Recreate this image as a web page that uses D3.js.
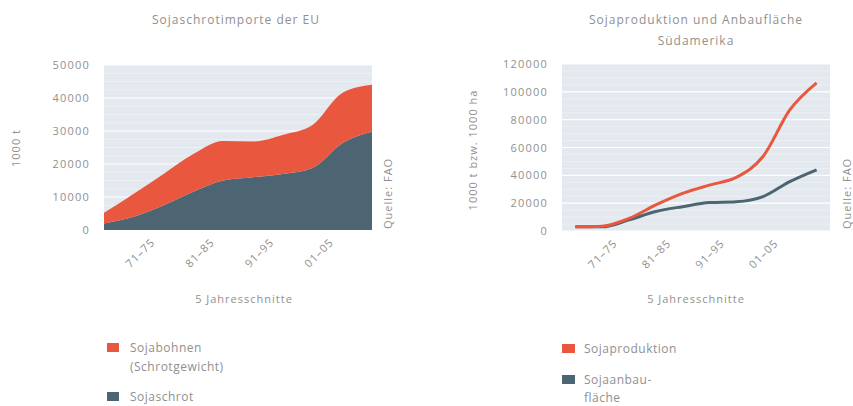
<!DOCTYPE html>
<html><head><meta charset="utf-8">
<script src="https://cdn.jsdelivr.net/npm/d3@7/dist/d3.min.js"></script>
<style>
body{margin:0;background:#fff;}
svg text{font-family:"Open Sans",sans-serif;fill:#909090;}
</style></head>
<body><svg id="c" width="853" height="406"></svg>
<script>
// ---- data ----
const periods = ["61–65","66–70","71–75","76–80","81–85","86–90","91–95","96–00","01–05","06–10"];
const shownTicks = ["71–75","81–85","91–95","01–05"];
// EU imports (1000 t)
const sojaschrot = [2000, 4000, 7500, 11600, 15000, 16000, 17000, 18800, 26300, 29800];
const sojabohnen = [3200, 7000, 9500, 11400, 12000, 10800, 11800, 13000, 15200, 14200];
const leftYTicks = [0, 10000, 20000, 30000, 40000, 50000];
// South America
const sojaproduktion = [3000, 3500, 9000, 18700, 27000, 33000, 38500, 53500, 87000, 106500];
const sojaanbauflaeche = [3000, 3000, 8000, 14000, 17500, 20400, 21000, 24700, 35500, 44000];
const rightYTicks = [0, 20000, 40000, 60000, 80000, 100000, 120000];

const RED = "#e9573f", DARK = "#4d6472", BG = "#e3e9ee";
const svg = d3.select("#c");

function frame(x0, x1, y, ticks) {
  const g = svg.append("g");
  g.append("rect").attr("x", x0).attr("y", y.range()[1]).attr("width", x1 - x0)
    .attr("height", y.range()[0] - y.range()[1]).attr("fill", BG);
  const step = ticks[1] - ticks[0];
  for (let v = 0; v < ticks[ticks.length - 1]; v += step / 4) {
    g.append("line").attr("x1", x0).attr("x2", x1).attr("y1", y(v)).attr("y2", y(v))
      .attr("stroke", "#fff").attr("stroke-opacity", 0.35);
  }
  ticks.forEach(t => {
    g.append("line").attr("x1", x0).attr("x2", x1).attr("y1", y(t)).attr("y2", y(t))
      .attr("stroke", "#fff").attr("stroke-width", 1.2).attr("stroke-opacity", 0.9);
    g.append("text").attr("x", x0 - 14).attr("y", y(t) + 4).attr("text-anchor", "end")
      .attr("font-size", 11).attr("letter-spacing", 1.2).text(t);
  });
  return g;
}

function xLabels(g, xs, yb, dx) {
  shownTicks.forEach(p => {
    const x = xs(p);
    g.append("text").attr("transform", `translate(${x + dx},${yb + 13}) rotate(-45)`)
      .attr("text-anchor", "end").attr("font-size", 11).attr("letter-spacing", 1).text(p);
  });
}

// ---- Left chart ----
{
  const x0 = 104, x1 = 372;
  const xs = d3.scalePoint().domain(periods).range([x0, x1]);
  const y = d3.scaleLinear().domain([0, 50000]).range([230, 65]);
  const g = frame(x0, x1, y, leftYTicks);
  const stackData = periods.map((p, i) => ({p, schrot: sojaschrot[i], bohnen: sojabohnen[i]}));
  const series = d3.stack().keys(["schrot", "bohnen"])(stackData);
  const area = d3.area().x(d => xs(d.data.p)).y0(d => y(d[0])).y1(d => y(d[1])).curve(d3.curveMonotoneX);
  g.selectAll("path.a").data(series).join("path").attr("d", area)
    .attr("fill", (d, i) => i === 0 ? DARK : RED);
  xLabels(g, xs, 230, -8);
  g.append("text").attr("x", 236).attr("y", 24).attr("text-anchor", "middle")
    .attr("font-size", 12).attr("letter-spacing", 1).text("Sojaschrotimporte der EU");
  g.append("text").attr("transform", "translate(20,148) rotate(-90)").attr("text-anchor", "middle")
    .attr("font-size", 11).attr("letter-spacing", 1).text("1000 t");
  g.append("text").attr("transform", "translate(392,229) rotate(-90)").attr("text-anchor", "start")
    .attr("font-size", 11).attr("letter-spacing", 1).text("Quelle: FAO");
  g.append("text").attr("x", 244).attr("y", 303).attr("text-anchor", "middle")
    .attr("font-size", 11).attr("letter-spacing", 1).text("5 Jahresschnitte");
  const lg = [{c: RED, t: ["Sojabohnen", "(Schrotgewicht)"], y: 343}, {c: DARK, t: ["Sojaschrot"], y: 392}];
  lg.forEach(l => {
    g.append("rect").attr("x", 107).attr("y", l.y).attr("width", 12).attr("height", 9).attr("fill", l.c);
    l.t.forEach((s, k) => g.append("text").attr("x", 130).attr("y", l.y + 9 + k * 19)
      .attr("font-size", 12).attr("letter-spacing", 0.5).text(s));
  });
}

// ---- Right chart ----
{
  const x0 = 562, x1 = 830;
  const xs = d3.scalePoint().domain(periods).range([x0, x1]).padding(0.5);
  const y = d3.scaleLinear().domain([0, 120000]).range([231, 64]);
  const g = frame(x0, x1, y, rightYTicks);
  const line = d3.line().x((d, i) => xs(periods[i])).y(d => y(d)).curve(d3.curveMonotoneX);
  g.append("path").attr("d", line(sojaanbauflaeche)).attr("fill", "none").attr("stroke", DARK).attr("stroke-width", 3);
  g.append("path").attr("d", line(sojaproduktion)).attr("fill", "none").attr("stroke", RED).attr("stroke-width", 3);
  xLabels(g, xs, 231, -11);
  g.append("text").attr("x", 696).attr("y", 24).attr("text-anchor", "middle")
    .attr("font-size", 12).attr("letter-spacing", 1).text("Sojaproduktion und Anbaufläche");
  g.append("text").attr("x", 696).attr("y", 45).attr("text-anchor", "middle")
    .attr("font-size", 12).attr("letter-spacing", 1).text("Südamerika");
  g.append("text").attr("transform", "translate(477,150) rotate(-90)").attr("text-anchor", "middle")
    .attr("font-size", 11).attr("letter-spacing", 1).text("1000 t bzw. 1000 ha");
  g.append("text").attr("transform", "translate(851,229) rotate(-90)").attr("text-anchor", "start")
    .attr("font-size", 11).attr("letter-spacing", 1).text("Quelle: FAO");
  g.append("text").attr("x", 696).attr("y", 303).attr("text-anchor", "middle")
    .attr("font-size", 11).attr("letter-spacing", 1).text("5 Jahresschnitte");
  const lg = [{c: RED, t: ["Sojaproduktion"], y: 344}, {c: DARK, t: ["Sojaanbau-", "fläche"], y: 375}];
  lg.forEach(l => {
    g.append("rect").attr("x", 562).attr("y", l.y).attr("width", 13).attr("height", 9).attr("fill", l.c);
    l.t.forEach((s, k) => g.append("text").attr("x", 584).attr("y", l.y + 9 + k * 18)
      .attr("font-size", 12).attr("letter-spacing", 0.5).text(s));
  });
}
</script></body></html>
